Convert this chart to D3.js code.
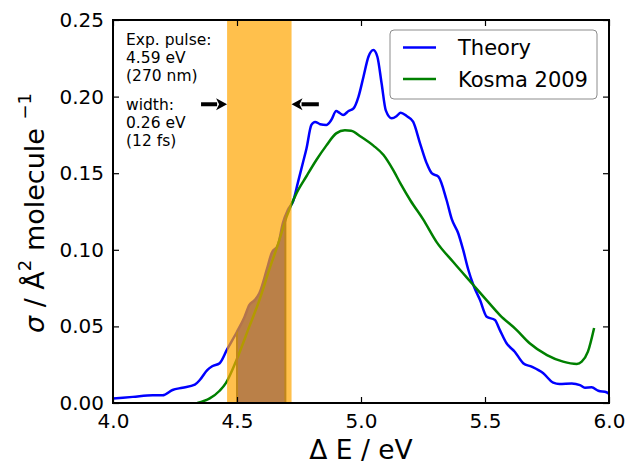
<!DOCTYPE html>
<html>
<head>
<meta charset="utf-8">
<script src="https://cdn.jsdelivr.net/npm/d3@7"></script>
<style>
  body { margin: 0; background: #fff; }
  svg text { font-family: "DejaVu Sans", sans-serif; fill: #000; }
</style>
</head>
<body>
<svg id="chart" width="628" height="467"></svg>
<script>
// ---- data ----
const theoryE = [4.00,4.08,4.16,4.20,4.24,4.28,4.33,4.35,4.38,4.40,4.43,4.46,4.50,4.53,4.55,4.57,4.59,4.62,4.64,4.665,4.685,4.705,4.727,4.745,4.766,4.78,4.80,4.815,4.835,4.86,4.88,4.90,4.912,4.928,4.95,4.97,4.99,5.01,5.03,5.05,5.066,5.083,5.10,5.124,5.144,5.16,5.184,5.21,5.238,5.265,5.285,5.312,5.345,5.366,5.392,5.412,5.433,5.453,5.48,5.507,5.54,5.56,5.587,5.62,5.654,5.688,5.735,5.775,5.80,5.85,5.883,5.903,5.93,5.957,5.99,6.0];
const theoryV = [0.003,0.004,0.005,0.005,0.0085,0.010,0.012,0.015,0.0215,0.024,0.026,0.035,0.0465,0.056,0.064,0.067,0.0716,0.087,0.098,0.103,0.1175,0.126,0.132,0.1435,0.157,0.166,0.1815,0.1835,0.182,0.1815,0.1847,0.1906,0.1895,0.188,0.1906,0.1923,0.200,0.213,0.226,0.2304,0.226,0.2087,0.191,0.1858,0.1873,0.1895,0.1873,0.1836,0.1695,0.1564,0.150,0.1477,0.1325,0.120,0.1108,0.0999,0.0868,0.077,0.0672,0.0563,0.0542,0.0476,0.039,0.0335,0.026,0.0237,0.0194,0.0133,0.0124,0.0128,0.0117,0.010,0.0102,0.008,0.007,0.006];
const kosmaE = [4.34,4.39,4.43,4.455,4.49,4.55,4.59,4.63,4.67,4.70,4.74,4.78,4.82,4.86,4.90,4.935,4.96,5.00,5.05,5.09,5.13,5.16,5.20,5.25,5.305,5.372,5.453,5.507,5.56,5.628,5.68,5.75,5.815,5.87,5.89,5.915,5.94];
const kosmaV = [0.0,0.003,0.008,0.013,0.025,0.050,0.067,0.087,0.106,0.1216,0.137,0.148,0.1586,0.168,0.176,0.178,0.1777,0.1738,0.168,0.162,0.152,0.143,0.132,0.120,0.105,0.092,0.077,0.067,0.0574,0.0476,0.039,0.0313,0.027,0.0255,0.027,0.0335,0.049];
const xTicks = [4.0, 4.5, 5.0, 5.5, 6.0];
const yTicks = [0.00, 0.05, 0.10, 0.15, 0.20, 0.25];
const seriesNames = ["Theory", "Kosma 2009"];
const seriesColors = ["#0000ff", "#008000"];
const pulseBand = [4.46, 4.72];
const fillRange = [4.5, 4.695];
const annotLines1 = ["Exp. pulse:", "4.59 eV", "(270 nm)"];
const annotLines2 = ["width:", "0.26 eV", "(12 fs)"];
const arrowLevel = 0.195;
const arrowLeft = [4.355, 4.46];
const arrowRight = [4.83, 4.72];

// ---- layout ----
const svg = d3.select("#chart");
const M = {left: 113, top: 20, right: 19, bottom: 64};
const W = 628 - M.left - M.right, H = 467 - M.top - M.bottom;
const x = d3.scaleLinear().domain([4.0, 6.0]).range([0, W]);
const y = d3.scaleLinear().domain([0, 0.25]).range([H, 0]);
const g = svg.append("g").attr("transform", `translate(${M.left},${M.top})`);

const defs = svg.append("defs");
defs.append("clipPath").attr("id", "plotclip").append("rect").attr("width", W).attr("height", H);
defs.append("clipPath").attr("id", "fillclip").append("rect")
  .attr("x", x(fillRange[0])).attr("width", x(fillRange[1]) - x(fillRange[0]))
  .attr("y", 0).attr("height", H);

const theory = theoryE.map((e, i) => [e, theoryV[i]]);
const kosma = kosmaE.map((e, i) => [e, kosmaV[i]]);
const curve = d3.curveMonotoneX;
const line = d3.line().x(d => x(d[0])).y(d => y(d[1])).curve(curve);
const area = d3.area().x(d => x(d[0])).y0(y(0)).y1(d => y(d[1])).curve(curve);

const plot = g.append("g").attr("clip-path", "url(#plotclip)");

// blue filled region under theory curve
plot.append("path").datum(theory).attr("d", area)
  .attr("fill", "#1a2af0").attr("clip-path", "url(#fillclip)");

// lines
plot.append("path").datum(theory).attr("d", line)
  .attr("fill", "none").attr("stroke", seriesColors[0]).attr("stroke-width", 2.5);
plot.append("path").datum(kosma).attr("d", line)
  .attr("fill", "none").attr("stroke", seriesColors[1]).attr("stroke-width", 2.5);

// orange pulse band
plot.append("rect")
  .attr("x", x(pulseBand[0])).attr("width", x(pulseBand[1]) - x(pulseBand[0]))
  .attr("y", 0).attr("height", H)
  .attr("fill", "#ffa500").attr("fill-opacity", 0.7);

// edges of filled region
defs.append("clipPath").attr("id", "areaclip").append("path").datum(theory).attr("d", area);
const edges = plot.append("g").attr("clip-path", "url(#areaclip)");
fillRange.forEach(e => {
  edges.append("line").attr("x1", x(e)).attr("x2", x(e)).attr("y1", 0).attr("y2", H)
    .attr("stroke", "#c0861a").attr("stroke-width", 2);
});

// arrows
function arrow(from, to) {
  const xf = x(from), xt = x(to), yy = y(arrowLevel);
  const dir = Math.sign(xt - xf);
  const head = 11;
  g.append("line").attr("x1", xf).attr("x2", xt - dir * head + dir).attr("y1", yy).attr("y2", yy)
    .attr("stroke", "#000").attr("stroke-width", 4);
  g.append("path")
    .attr("d", `M${xt},${yy} L${xt - dir * head},${yy - 6} L${xt - dir * (head - 3)},${yy} L${xt - dir * head},${yy + 6} Z`)
    .attr("fill", "#000");
}
arrow(arrowLeft[0], arrowLeft[1]);
arrow(arrowRight[0], arrowRight[1]);

// annotation text
const ann = g.append("g").attr("font-size", 15.5);
annotLines1.forEach((t, i) => ann.append("text").attr("x", 13).attr("y", 25 + i * 18).text(t));
annotLines2.forEach((t, i) => ann.append("text").attr("x", 13).attr("y", 90 + i * 18).text(t));

// axes
const xAxis = d3.axisBottom(x).tickValues(xTicks).tickFormat(d3.format(".1f")).tickSizeInner(-6).tickSizeOuter(0).tickPadding(11);
const yAxis = d3.axisLeft(y).tickValues(yTicks).tickFormat(d3.format(".2f")).tickSizeInner(-6).tickSizeOuter(0).tickPadding(9);
const xTop = d3.axisTop(x).tickValues(xTicks).tickFormat("").tickSizeInner(-6).tickSizeOuter(0);
const yRight = d3.axisRight(y).tickValues(yTicks).tickFormat("").tickSizeInner(-6).tickSizeOuter(0);

function style(sel) {
  sel.select(".domain").remove();
  sel.selectAll(".tick line").attr("stroke", "#000").attr("stroke-width", 1.2);
  sel.selectAll(".tick text").attr("font-size", 20).attr("font-family", "DejaVu Sans").attr("fill", "#000");
}
g.append("g").attr("transform", `translate(0,${H})`).call(xAxis).call(style);
g.append("g").call(yAxis).call(style);
g.append("g").call(xTop).call(style);
g.append("g").attr("transform", `translate(${W},0)`).call(yRight).call(style);

// frame
g.append("rect").attr("width", W).attr("height", H).attr("fill", "none")
  .attr("stroke", "#000").attr("stroke-width", 2);

// legend
const leg = g.append("g").attr("transform", `translate(${390 - M.left},${30 - M.top})`);
leg.append("rect").attr("width", 207).attr("height", 69).attr("rx", 4)
  .attr("fill", "#fff").attr("stroke", "#8c8c8c").attr("stroke-width", 1);
seriesNames.forEach((n, i) => {
  const yy = 17.5 + i * 31.5;
  leg.append("line").attr("x1", 13).attr("x2", 46).attr("y1", yy).attr("y2", yy)
    .attr("stroke", seriesColors[i]).attr("stroke-width", 2.5);
  leg.append("text").attr("x", 68).attr("y", yy + 7.5).attr("font-size", 21).text(n);
});

// axis labels
svg.append("text").attr("x", M.left + W / 2).attr("y", 459).attr("text-anchor", "middle")
  .attr("font-size", 26.5).text("\u0394 E / eV");

const yl = svg.append("text").attr("transform", "translate(44,213) rotate(-90)")
  .attr("text-anchor", "middle").attr("font-size", 27);
yl.append("tspan").attr("font-style", "italic").text("\u03c3");
yl.append("tspan").text(" / \u00c5");
yl.append("tspan").attr("font-size", 18).attr("dy", -13).text("2");
yl.append("tspan").attr("dy", 13).text(" molecule ");
yl.append("tspan").attr("font-size", 18).attr("dy", -13).text("\u22121");
</script>
</body>
</html>
